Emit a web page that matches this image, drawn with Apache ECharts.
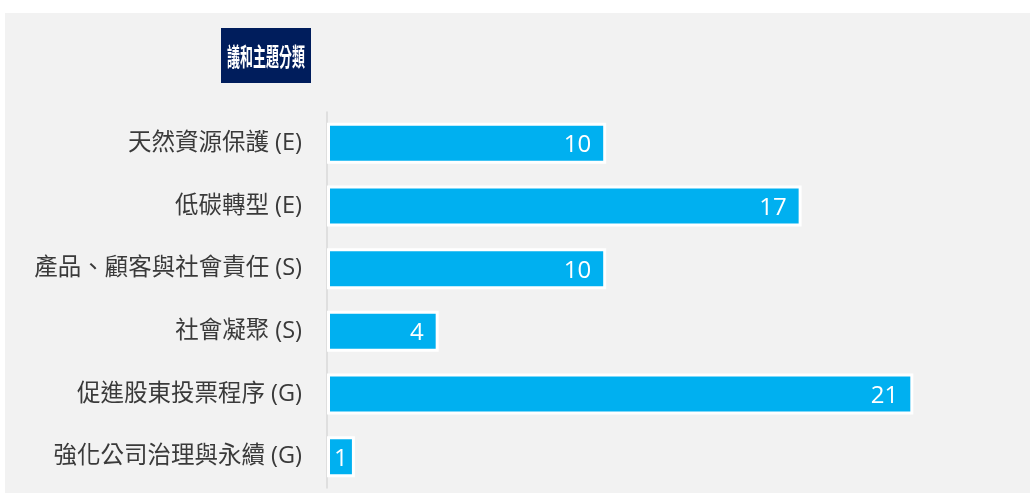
<!DOCTYPE html>
<html>
<head>
<meta charset="utf-8">
<script src="https://cdn.jsdelivr.net/npm/echarts@6/dist/echarts.min.js"></script>
<style>
html,body{margin:0;padding:0;background:#ffffff;}
#c{width:1030px;height:495px;}
</style>
</head>
<body>
<div id="c"></div>
<script>
const titleText = '議和主題分類';
const categories = [
  '天然資源保護 (E)',
  '低碳轉型 (E)',
  '產品、顧客與社會責任 (S)',
  '社會凝聚 (S)',
  '促進股東投票程序 (G)',
  '強化公司治理與永續 (G)'
];
const values = [10, 17, 10, 4, 21, 1];

const chart = echarts.init(document.getElementById('c'), null, {renderer: 'canvas'});
const FONT = '"Open Sans", "Noto Sans CJK TC", "Noto Sans", sans-serif';
const CJK = '"Noto Sans CJK TC", "Noto Sans", sans-serif';

const barData = values.map(v => v < 2
  ? {value: v, label: {position: 'inside'}}
  : v);

chart.setOption({
  animation: false,
  backgroundColor: '#ffffff',
  graphic: [
    {
      type: 'rect', z: -10, silent: true,
      shape: {x: 5, y: 13, width: 1030, height: 480},
      style: {fill: '#f2f2f2'}
    },
    {
      type: 'rect', z: 10, silent: true,
      shape: {x: 221, y: 28, width: 90, height: 55},
      style: {fill: '#001d5c'}
    },
    {
      type: 'text', z: 11, silent: true,
      x: 266, y: 56, scaleX: 0.52,
      style: {
        text: titleText, fill: '#ffffff',
        font: 'bold 25px ' + CJK,
        align: 'center', verticalAlign: 'middle'
      }
    }
  ],
  grid: {left: 327, top: 112, bottom: 7, right: 5, containLabel: false},
  xAxis: {
    type: 'value', min: 0, max: 25,
    show: false
  },
  yAxis: {
    type: 'category',
    data: categories,
    inverse: true,
    axisLine: {show: true, lineStyle: {color: '#d9d9d9', width: 1.5}},
    axisTick: {show: false},
    axisLabel: {
      margin: 25,
      fontSize: 23.5,
      color: '#3a3a3a',
      fontFamily: FONT,
      padding: [3, 0, 0, 0]
    }
  },
  series: [{
    type: 'bar',
    data: barData,
    barWidth: 41,
    itemStyle: {color: '#00b0f0', borderColor: '#ffffff', borderWidth: 3},
    label: {
      show: true,
      position: 'insideRight',
      distance: 15,
      offset: [0, 2],
      color: '#ffffff',
      fontSize: 24,
      fontFamily: FONT
    }
  }]
});
</script>
</body>
</html>
